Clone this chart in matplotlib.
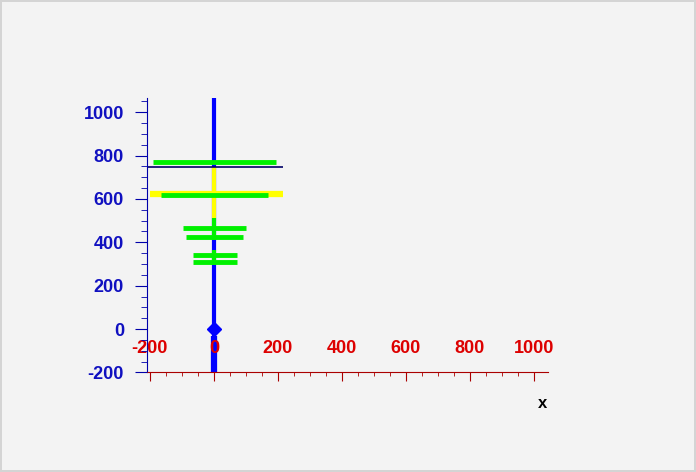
import numpy as np
import matplotlib.pyplot as plt
from matplotlib.ticker import MultipleLocator

# horizontal green bars: y position, left end, right end
green_y = [770, 620, 465, 424, 341, 309]
green_lo = [-190, -166, -97, -87, -66, -66]
green_hi = [194, 169, 100, 91, 72, 72]

# green vertical pieces along x = 0
green_vlo = [410, 295]
green_vhi = [511, 364]

# yellow bar (horizontal + vertical piece)
yellow_y = [622]
yellow_lo = [-200]
yellow_hi = [216]
yellow_vlo = [511]
yellow_vhi = [747]

# thin dark line
navy_y = [747]
navy_lo = [-210]
navy_hi = [216]

# blue stem and point
blue_x = [0]
blue_lo = [-200]
blue_hi = [1064]
point_x = [0]
point_y = [0]

x_ticks = [-200, 0, 200, 400, 600, 800, 1000]
y_ticks = [-200, 0, 200, 400, 600, 800, 1000]

plt.rcParams['font.family'] = ['Liberation Sans', 'DejaVu Sans']
plt.rcParams['font.weight'] = 'bold'
plt.rcParams['axes.unicode_minus'] = False

bg = '#f3f3f3'
fig = plt.figure(figsize=(6.96, 4.72), dpi=100, facecolor=bg)
fig.patch.set_edgecolor('#d4d4d4')
fig.patch.set_linewidth(1.5)
ax = fig.add_axes([147/696, 99.6/472, 401/696, 274/472], facecolor=bg)
ax.set_axisbelow(False)

ax.vlines(blue_x, blue_lo, blue_hi, colors='#0000ff', lw=3, zorder=1)
ax.vlines(blue_x, blue_lo, [-30], colors='#0000ff', lw=4.5, zorder=1)
ax.plot(point_x, point_y, 'D', color='#0000ff', ms=7, zorder=1.2)

ax.vlines([0], yellow_vlo, yellow_vhi, colors='#ffff00', lw=3, zorder=1.3)
ax.hlines(yellow_y, yellow_lo, yellow_hi, colors='#ffff00', lw=4.5, zorder=1.3)

ax.hlines(navy_y, navy_lo, navy_hi, colors='#000066', lw=1.2, zorder=1.6)

ax.vlines([0] * len(green_vlo), green_vlo, green_vhi, colors='#00f000', lw=3, zorder=1.5)
ax.hlines(green_y, green_lo, green_hi, colors='#00f000', lw=3.5, zorder=1.7)

ax.set_xlim(-209, 1044)
ax.set_ylim(-200, 1064)

for s in ['top', 'right']:
    ax.spines[s].set_visible(False)
ax.spines['left'].set_color('#0000aa')
ax.spines['bottom'].set_color('#aa0000')

ax.set_xticks(x_ticks)
ax.set_yticks(y_ticks)
ax.xaxis.set_minor_locator(MultipleLocator(50))
ax.yaxis.set_minor_locator(MultipleLocator(50))

ax.tick_params(axis='y', which='major', length=8.5, color='#0000aa',
               labelcolor='#1010c0', labelsize=13, pad=8)
ax.tick_params(axis='y', which='minor', length=4.3, color='#0000aa')
ax.tick_params(axis='x', which='major', length=6.5, color='#aa0000',
               labelcolor='#dd0000', labelsize=13, pad=-30)
ax.tick_params(axis='x', which='minor', length=3, color='#aa0000')
for lab in ax.get_xticklabels() + ax.get_yticklabels():
    lab.set_fontweight('bold')

fig.text(543/696, 1 - 403/472, 'x', ha='center', va='center',
         fontsize=12, fontweight='bold', color='black')

fig.savefig('out.png', dpi=100, facecolor=fig.get_facecolor(),
            edgecolor=fig.get_edgecolor())
